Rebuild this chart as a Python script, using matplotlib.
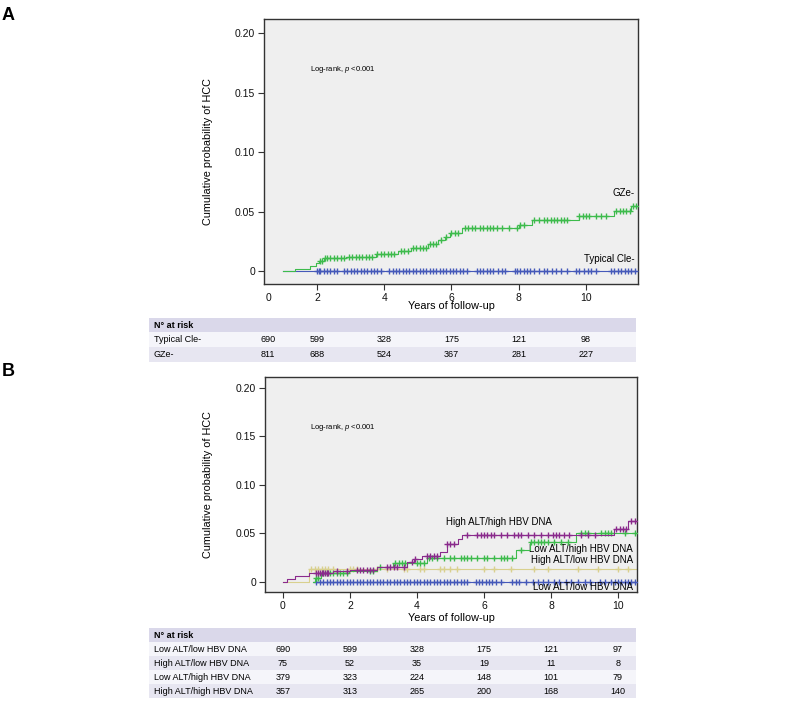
import numpy as np
import matplotlib
matplotlib.use("Agg")
import matplotlib.pyplot as plt
from matplotlib.patches import Rectangle
from matplotlib.transforms import blended_transform_factory

plt.rcParams['font.family'] = ['Liberation Sans', 'DejaVu Sans']
plt.rcParams['mathtext.fontset'] = 'custom'
plt.rcParams['mathtext.it'] = 'Liberation Sans:italic'
plt.rcParams['mathtext.rm'] = 'Liberation Sans'

# ---------------- data: panel A ----------------
gze_t = [0.99, 1.35, 1.8, 1.97, 2.05, 2.2, 2.85, 3.75, 4.4, 4.8, 5.3, 5.6, 5.8, 5.95, 6.3,
         8.0, 8.4, 9.8, 10.85, 11.35, 11.55]
gze_v = [0, 0.002, 0.0045, 0.0065, 0.0084, 0.0106, 0.0118, 0.014, 0.0168, 0.0196, 0.0227,
         0.026, 0.0285, 0.0317, 0.0364, 0.039, 0.0426, 0.046, 0.0504, 0.055, 0.055]
gze_cens = [2.1, 2.15, 2.25, 2.3, 2.4, 2.5, 2.6, 2.7, 2.8, 2.95, 3.05, 3.15, 3.25, 3.35, 3.45,
            3.55, 3.65, 3.8, 3.9, 4.0, 4.1, 4.2, 4.3, 4.5, 4.6, 4.7, 4.85, 4.95, 5.05, 5.15,
            5.25, 5.35, 5.45, 5.55, 5.7, 5.85, 6.0, 6.1, 6.2, 6.4, 6.5, 6.6, 6.7, 6.85, 6.95,
            7.05, 7.15, 7.25, 7.35, 7.5, 7.7, 7.95, 8.05, 8.15, 8.45, 8.6, 8.75, 8.85, 8.95,
            9.05, 9.15, 9.25, 9.35, 9.45, 9.8, 9.9, 10.0, 10.1, 10.3, 10.45, 10.6, 10.9, 11.0,
            11.1, 11.2, 11.3, 11.4, 11.5]

tcle_t = [0.99, 11.55]
tcle_v = [0, 0]
tcle_cens = [2.0, 2.05, 2.1, 2.2, 2.3, 2.4, 2.5, 2.6, 2.8, 2.9, 3.0, 3.1, 3.2, 3.3, 3.4, 3.5,
             3.6, 3.7, 3.8, 3.9, 4.15, 4.25, 4.35, 4.45, 4.55, 4.65, 4.75, 4.85, 4.95, 5.05,
             5.15, 5.25, 5.35, 5.45, 5.55, 5.65, 5.75, 5.85, 5.95, 6.05, 6.15, 6.25, 6.35,
             6.45, 6.75, 6.85, 6.95, 7.05, 7.15, 7.25, 7.4, 7.5, 7.6, 7.9, 7.95, 8.05, 8.15,
             8.25, 8.35, 8.45, 8.6, 8.75, 8.85, 9.0, 9.1, 9.25, 9.45, 9.7, 9.8, 9.95, 10.05,
             10.15, 10.3, 10.75, 10.85, 10.95, 11.05, 11.15, 11.25, 11.35, 11.45]

risk_a_groups = ['Typical Cle-', 'GZe-']
risk_a = [[690, 599, 328, 175, 121, 98],
          [811, 688, 524, 367, 281, 227]]

# ---------------- data: panel B ----------------
ll_t = [0.95, 10.57]
ll_v = [0, 0]
ll_cens = [1.0, 1.1, 1.2, 1.3, 1.4, 1.5, 1.6, 1.7, 1.8, 1.9, 2.0, 2.1, 2.2, 2.3, 2.4, 2.5,
           2.6, 2.7, 2.8, 2.9, 3.0, 3.1, 3.2, 3.3, 3.4, 3.5, 3.6, 3.7, 3.8, 3.9, 4.0, 4.1,
           4.2, 4.3, 4.4, 4.5, 4.6, 4.7, 4.8, 4.9, 5.0, 5.1, 5.2, 5.3, 5.4, 5.5, 5.75, 5.85,
           5.95, 6.05, 6.15, 6.25, 6.35, 6.5, 6.85, 6.95, 7.05, 7.25, 7.45, 7.6, 7.75, 7.9,
           8.1, 8.25, 8.45, 8.6, 8.8, 9.0, 9.15, 9.45, 9.6, 9.8, 9.9, 10.0, 10.1, 10.2, 10.3,
           10.4, 10.5]

hl_t = [0, 0.78, 10.57]
hl_v = [0, 0.0138, 0.0138]
hl_cens = [0.85, 0.95, 1.05, 1.15, 1.25, 1.35, 1.5, 2.0, 2.1, 2.2, 2.8, 3.1, 3.6, 3.7, 4.1,
           4.2, 4.7, 4.8, 5.0, 5.2, 6.0, 6.3, 6.8, 7.5, 7.9, 8.8, 9.4, 10.0, 10.3]

lh_t = [0.9, 0.96, 1.14, 1.97, 2.8, 3.28, 4.29, 6.97, 7.37, 8.75, 10.57]
lh_v = [0, 0.0038, 0.009, 0.0113, 0.0155, 0.02, 0.025, 0.033, 0.0415, 0.051, 0.051]
lh_cens = [1.0, 1.05, 1.2, 1.3, 1.4, 1.5, 1.6, 1.7, 1.8, 1.9, 2.6, 2.7, 2.9, 3.35, 3.45, 3.55,
           3.65, 4.0, 4.1, 4.2, 4.35, 4.45, 4.6, 4.8, 5.0, 5.1, 5.3, 5.4, 5.5, 5.6, 5.8, 6.0,
           6.1, 6.3, 6.5, 6.6, 6.7, 6.85, 7.1, 7.4, 7.5, 7.6, 7.7, 7.8, 7.9, 8.1, 8.3, 8.5,
           8.9, 9.0, 9.1, 9.5, 9.6, 9.7, 9.8, 10.2, 10.5]

hh_t = [0, 0.11, 0.36, 0.79, 1.5, 2.0, 2.8, 3.7, 3.9, 4.14, 4.69, 4.89, 5.22, 5.33, 9.88,
        10.3, 10.57]
hh_v = [0, 0.003, 0.0065, 0.0096, 0.0117, 0.0124, 0.0158, 0.021, 0.0237, 0.0271, 0.0306,
        0.039, 0.044, 0.0482, 0.0546, 0.063, 0.063]
hh_cens = [1.0, 1.05, 1.1, 1.15, 1.2, 1.25, 1.3, 1.35, 1.6, 1.9, 2.2, 2.3, 2.4, 2.5, 2.6, 2.7,
           3.1, 3.2, 3.3, 3.4, 3.6, 3.85, 3.95, 4.3, 4.4, 4.5, 4.6, 4.9, 5.0, 5.1, 5.5, 5.8,
           5.9, 6.0, 6.1, 6.2, 6.3, 6.5, 6.7, 6.9, 7.0, 7.1, 7.3, 7.5, 7.7, 7.9, 8.05, 8.15,
           8.25, 8.4, 8.55, 8.9, 9.1, 9.3, 9.95, 10.05, 10.15, 10.25, 10.4, 10.5]

risk_b_groups = ['Low ALT/low HBV DNA', 'High ALT/low HBV DNA',
                 'Low ALT/high HBV DNA', 'High ALT/high HBV DNA']
risk_b = [[690, 599, 328, 175, 121, 97],
          [75, 52, 35, 19, 11, 8],
          [379, 323, 224, 148, 101, 79],
          [357, 313, 265, 200, 168, 140]]

# ---------------- style ----------------
W, H = 787, 703
GREEN = '#3dbb4c'
BLUE = '#4559b9'
PURPLE = '#8a2a8c'
KHAKI = '#d9d08e'
BG = '#efefef'
EDGE = '#333333'
HEAD = '#dad8ea'
ROW1 = '#f5f5fa'
ROW2 = '#e7e6f1'

fig = plt.figure(figsize=(W / 100, H / 100), dpi=100)


def fig_box(x0, y0, x1, y1):
    # pixel box (top-left origin) -> figure fraction rect
    return [x0 / W, 1 - y1 / H, (x1 - x0) / W, (y1 - y0) / H]


def km(ax, t, v, cens, color, z):
    t = np.asarray(t)
    v = np.asarray(v)
    ax.step(t, v, where='post', color=color, lw=0.8, zorder=z)
    c = np.asarray(cens)
    cy = v[np.searchsorted(t, c, side='right') - 1]
    ax.plot(c, cy, ls='none', marker='+', ms=4.5, mew=1.0, color=color, zorder=z)


def style_axes(ax):
    ax.set_facecolor(BG)
    for s in ax.spines.values():
        s.set_color(EDGE)
        s.set_linewidth(1.0)
    ax.tick_params(direction='out', length=4, width=0.8, color=EDGE,
                   labelsize=7.5, pad=2.5, labelcolor='#111111')
    ax.set_yticks([0, 0.05, 0.10, 0.15, 0.20])
    ax.set_yticklabels(['0', '0.05', '0.10', '0.15', '0.20'])


def risk_table(ax, groups, rows, cols, y_top, row_h, head_h):
    tr = blended_transform_factory(ax.transData, fig.transFigure)
    x0, x1 = 149, 636
    fig.patches.append(Rectangle((x0 / W, 1 - (y_top + head_h) / H), (x1 - x0) / W,
                                 head_h / H, transform=fig.transFigure,
                                 facecolor=HEAD, edgecolor='none'))
    fig.text(154 / W, 1 - (y_top + head_h / 2) / H, 'N° at risk', fontsize=6.5,
             weight='bold', va='center', ha='left')
    for i, (g, vals) in enumerate(zip(groups, rows)):
        yt = y_top + head_h + i * row_h
        fig.patches.append(Rectangle((x0 / W, 1 - (yt + row_h) / H), (x1 - x0) / W,
                                     row_h / H, transform=fig.transFigure,
                                     facecolor=ROW1 if i % 2 == 0 else ROW2,
                                     edgecolor='none'))
        yc = 1 - (yt + row_h / 2) / H
        fig.text(154 / W, yc, g, fontsize=6.5, va='center', ha='left')
        for c, n in zip(cols, vals):
            fig.text(c, yc, str(n), transform=tr, fontsize=6.5, va='center', ha='center')


# ================= Panel A =================
ax_a = fig.add_axes(fig_box(264, 19, 638, 284))
style_axes(ax_a)
km(ax_a, tcle_t, tcle_v, tcle_cens, BLUE, 3)
km(ax_a, gze_t, gze_v, gze_cens, GREEN, 4)
ax_a.set_xlim(0.424, 11.55)
ax_a.set_ylim(-0.0109, 0.2118)
xt_a = [0.55, 2, 4, 6, 8, 10]
ax_a.set_xticks(xt_a)
ax_a.set_xticklabels(['0', '2', '4', '6', '8', '10'])
ax_a.xaxis.get_major_ticks()[0].tick1line.set_visible(False)
ax_a.set_xlabel('Years of follow-up', fontsize=7.8)
ax_a.set_ylabel('Cumulative probability of HCC', fontsize=7.8)
ax_a.xaxis.set_label_coords(0.5, -0.066)
ax_a.yaxis.set_label_coords(-0.136, 0.5)
ax_a.text(2.77, 0.169, 'Log-rank, $\\mathit{p}$ <0.001', fontsize=5.5, ha='center', va='center')
ax_a.text(11.46, 0.0655, 'GZe-', fontsize=7, ha='right', va='center')
ax_a.text(11.46, 0.0100, 'Typical Cle-', fontsize=7, ha='right', va='center')
fig.text(0.002, 1 - 15 / H, 'A', fontsize=13, weight='bold', va='center', ha='left')

risk_table(ax_a, risk_a_groups, risk_a, xt_a, 318, 15, 14)

# ================= Panel B =================
ax_b = fig.add_axes(fig_box(265, 377, 637, 592))
style_axes(ax_b)
km(ax_b, ll_t, ll_v, ll_cens, BLUE, 3)
km(ax_b, hl_t, hl_v, hl_cens, KHAKI, 2)
km(ax_b, lh_t, lh_v, lh_cens, GREEN, 4)
km(ax_b, hh_t, hh_v, hh_cens, PURPLE, 5)
ax_b.set_xlim(-0.537, 10.567)
ax_b.set_ylim(-0.0103, 0.2113)
xt_b = [0, 2, 4, 6, 8, 10]
ax_b.set_xticks(xt_b)
ax_b.set_xlabel('Years of follow-up', fontsize=7.8)
ax_b.set_ylabel('Cumulative probability of HCC', fontsize=7.8)
ax_b.xaxis.set_label_coords(0.5, -0.098)
ax_b.yaxis.set_label_coords(-0.14, 0.5)
ax_b.text(1.79, 0.159, 'Log-rank, $\\mathit{p}$ <0.001', fontsize=5.5, ha='center', va='center')
ax_b.text(6.45, 0.062, 'High ALT/high HBV DNA', fontsize=7, ha='center', va='center')
ax_b.text(10.45, 0.034, 'Low ALT/high HBV DNA', fontsize=7, ha='right', va='center')
ax_b.text(10.45, 0.0227, 'High ALT/low HBV DNA', fontsize=7, ha='right', va='center')
ax_b.text(10.45, -0.0055, 'Low ALT/low HBV DNA', fontsize=7, ha='right', va='center')
fig.text(0.002, 1 - 372 / H, 'B', fontsize=13, weight='bold', va='center', ha='left')

risk_table(ax_b, risk_b_groups, risk_b, xt_b, 628, 14, 14)

fig.savefig('out.png', dpi=100)
